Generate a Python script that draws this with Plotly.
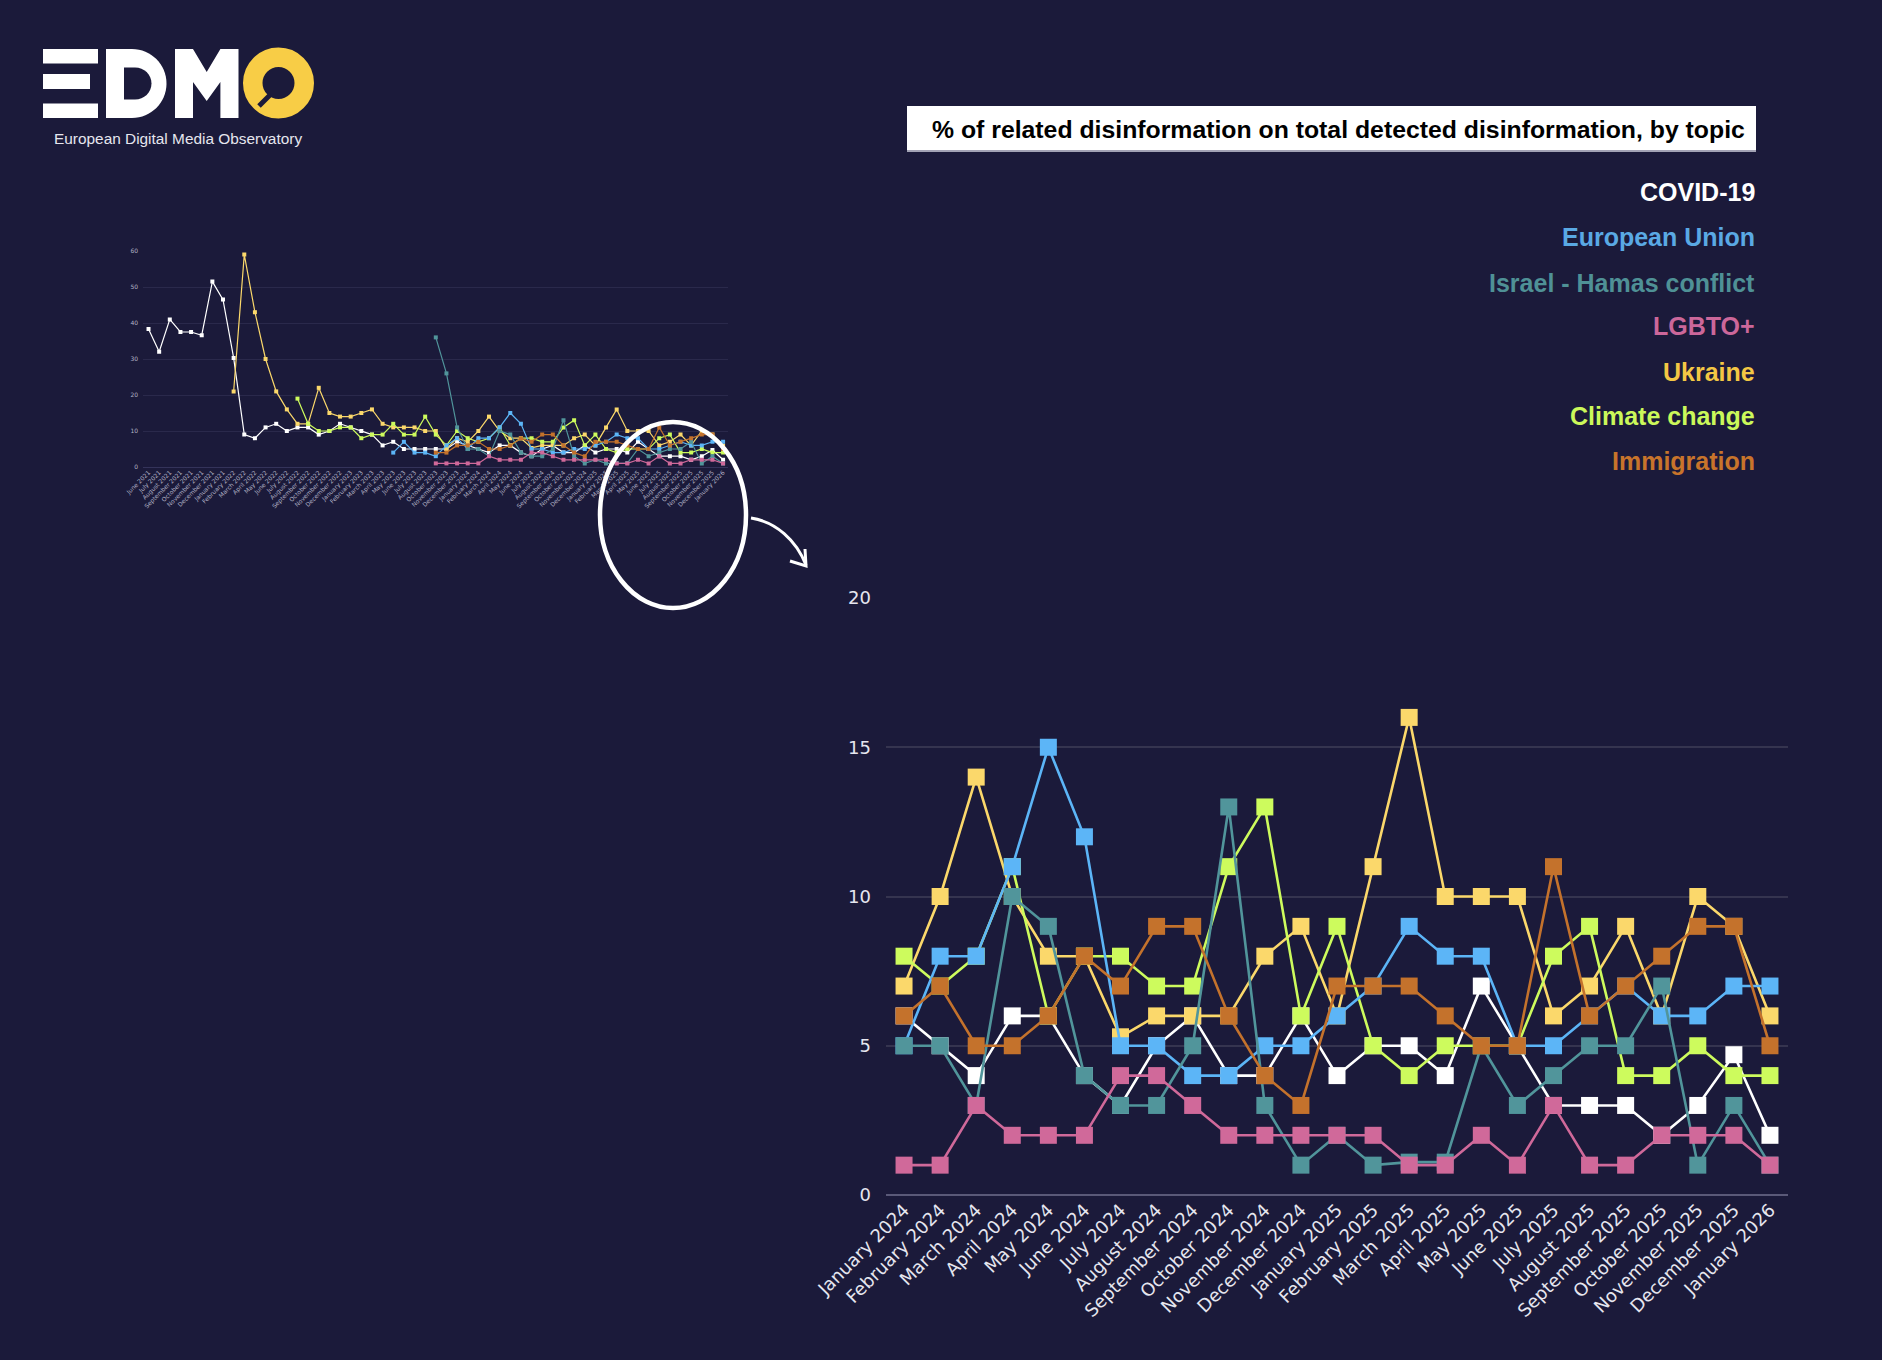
import plotly.graph_objects as go

W, H = 1882, 1360
BG = "#1b1a3a"

# ---------------- data ----------------
months_main = ["January 2024", "February 2024", "March 2024", "April 2024", "May 2024", "June 2024",
               "July 2024", "August 2024", "September 2024", "October 2024", "November 2024",
               "December 2024", "January 2025", "February 2025", "March 2025", "April 2025",
               "May 2025", "June 2025", "July 2025", "August 2025", "September 2025",
               "October 2025", "November 2025", "December 2025", "January 2026"]

months_hist = ["June 2021", "July 2021", "August 2021", "September 2021", "October 2021",
               "November 2021", "December 2021", "January 2021", "February 2022", "March 2022",
               "April 2022", "May 2022", "June 2022", "July 2022", "August 2022", "September 2022",
               "October 2022", "November 2022", "December 2022", "January 2023", "February 2023",
               "March 2023", "April 2023", "May 2023", "June 2023", "July 2023", "August 2023",
               "October 2023", "November 2023", "December 2023"]

covid = [6, 5, 4, 6, 6, 4, 3, 5, 6, 4, 4, 6, 4, 5, 5, 4, 7, 5, 3, 3, 3, 2, 3, 4.7, 2]
eu = [5, 8, 8, 11, 15, 12, 5, 5, 4, 4, 5, 5, 6, 7, 9, 8, 8, 5, 5, 6, 7, 6, 6, 7, 7]
israel = [5, 5, 3, 10, 9, 4, 3, 3, 5, 13, 3, 1, 2, 1, 1.1, 1.1, 5, 3, 4, 5, 5, 7, 1, 3, 1]
lgbto = [1, 1, 3, 2, 2, 2, 4, 4, 3, 2, 2, 2, 2, 2, 1, 1, 2, 1, 3, 1, 1, 2, 2, 2, 1]
ukraine = [7, 10, 14, 10, 8, 8, 5.3, 6, 6, 6, 8, 9, 6, 11, 16, 10, 10, 10, 6, 7, 9, 6, 10, 9, 6]
climate = [8, 7, 8, 11, 6, 8, 8, 7, 7, 11, 13, 6, 9, 5, 4, 5, 5, 5, 8, 9, 4, 4, 5, 4, 4]
immigration = [6, 7, 5, 5, 6, 8, 7, 9, 9, 6, 4, 3, 7, 7, 7, 6, 5, 5, 11, 6, 7, 8, 9, 9, 5]

# earlier history (June 2021 - December 2023) shown in the small overview chart
hist_covid = [38.3, 32, 41, 37.5, 37.5, 36.6, 51.5, 46.5, 30.3, 9, 8, 11, 12, 10, 11, 11, 9, 10,
              12, 11, 10, 9, 6, 7, 5, 5, 5, 5, 5, 7]
hist_eu = [None] * 23 + [4, 7, 4, 4, 3, 6, 8]
hist_israel = [None] * 27 + [36, 26, 11]
hist_lgbto = [None] * 27 + [1, 1, 1]
hist_ukraine = [None] * 8 + [21, 59, 43, 30, 21, 16, 12, 12, 22, 15, 14, 14, 15, 16, 12, 11, 11,
                             11, 10, 10, 5, 8]
hist_climate = [None] * 14 + [19, 12, 10, 10, 11, 11, 8, 9, 9, 12, 9, 9, 14, 9, 6, 10]
hist_immigration = [None] * 27 + [4, 4, 6]

legend_names = ["COVID-19", "European Union", "Israel - Hamas conflict", "LGBTO+", "Ukraine",
                "Climate change", "Immigration"]

# ---------------- styles ----------------
line_colors = {
    "COVID-19": "#ffffff",
    "European Union": "#5cb5f7",
    "Israel - Hamas conflict": "#51959b",
    "LGBTO+": "#d0699a",
    "Ukraine": "#fbd86b",
    "Climate change": "#cdfb5d",
    "Immigration": "#c4722c",
}
legend_colors = {
    "COVID-19": "#ffffff",
    "European Union": "#5aa9e4",
    "Israel - Hamas conflict": "#4f9196",
    "LGBTO+": "#cc679a",
    "Ukraine": "#f3c744",
    "Climate change": "#cbf85a",
    "Immigration": "#c8742b",
}

main_data = {"COVID-19": covid, "European Union": eu, "Israel - Hamas conflict": israel,
             "LGBTO+": lgbto, "Ukraine": ukraine, "Climate change": climate,
             "Immigration": immigration}
hist_data = {"COVID-19": hist_covid, "European Union": hist_eu,
             "Israel - Hamas conflict": hist_israel, "LGBTO+": hist_lgbto,
             "Ukraine": hist_ukraine, "Climate change": hist_climate,
             "Immigration": hist_immigration}

# drawing order (bottom -> top)
draw_order = ["COVID-19", "Ukraine", "Climate change", "European Union",
              "Israel - Hamas conflict", "LGBTO+", "Immigration"]

fig = go.Figure()

all_months = months_hist + months_main
for name in draw_order:
    fig.add_trace(go.Scatter(
        x=all_months, y=hist_data[name] + main_data[name], mode="lines+markers",
        line=dict(color=line_colors[name], width=1.2),
        marker=dict(symbol="square", size=4, color=line_colors[name]),
        xaxis="x2", yaxis="y2", showlegend=False, hoverinfo="skip", connectgaps=False))

for name in draw_order:
    fig.add_trace(go.Scatter(
        x=months_main, y=main_data[name], mode="lines+markers", name=name,
        line=dict(color=line_colors[name], width=2.6),
        marker=dict(symbol="square", size=17, color=line_colors[name]),
        xaxis="x", yaxis="y", showlegend=False, cliponaxis=False))


def pt(x, y):
    return f"{x / W:.6f},{1 - y / H:.6f}"


shapes = []
# --- EDMO logo ---
for (x0, y0, x1, y1) in [(43, 49, 98, 63.5), (43, 74, 90, 89), (43, 103.5, 98, 118)]:
    shapes.append(dict(type="rect", xref="paper", yref="paper", x0=x0 / W, x1=x1 / W,
                       y0=1 - y1 / H, y1=1 - y0 / H, fillcolor="#ffffff", line=dict(width=0)))
d_outer = (f"M {pt(106,49)} L {pt(132,49)} C {pt(151.05,49)} {pt(166.5,64.45)} {pt(166.5,83.5)} "
           f"C {pt(166.5,102.55)} {pt(151.05,118)} {pt(132,118)} L {pt(106,118)} Z")
d_hole = (f"M {pt(124,67.5)} L {pt(135,67.5)} C {pt(144.1,67.5)} {pt(151.5,74.4)} {pt(151.5,83.5)} "
          f"C {pt(151.5,92.6)} {pt(144.1,99.5)} {pt(135,99.5)} L {pt(124,99.5)} Z")
m_path = ("M " + " L ".join(pt(x, y) for x, y in [
    (175, 118), (175, 49), (193, 49), (206.7, 72), (220.4, 49), (238.5, 49), (238.5, 118),
    (220.4, 118), (220.4, 82), (206.7, 101), (193, 82), (193, 118)]) + " Z")
shapes.append(dict(type="path", xref="paper", yref="paper", path=d_outer,
                   fillcolor="#ffffff", line=dict(width=0)))
shapes.append(dict(type="path", xref="paper", yref="paper", path=d_hole,
                   fillcolor=BG, line=dict(width=0)))
shapes.append(dict(type="path", xref="paper", yref="paper", path=m_path,
                   fillcolor="#ffffff", line=dict(width=0)))
cx, cy, r = 278.5, 83, 25.75
shapes.append(dict(type="circle", xref="paper", yref="paper", x0=(cx - r) / W, x1=(cx + r) / W,
                   y0=1 - (cy + r) / H, y1=1 - (cy - r) / H, fillcolor="rgba(0,0,0,0)",
                   line=dict(color="#f8cd46", width=19.5)))
shapes.append(dict(type="line", xref="paper", yref="paper", x0=270 / W, y0=1 - 95 / H,
                   x1=259 / W, y1=1 - 106 / H, line=dict(color=BG, width=5)))

# --- title box ---
shapes.append(dict(type="rect", xref="paper", yref="paper", x0=907 / W, x1=1756 / W,
                   y0=1 - 151 / H, y1=1 - 106 / H, fillcolor="#ffffff", line=dict(width=0),
                   layer="below"))
shapes.append(dict(type="line", xref="paper", yref="paper", x0=907 / W, x1=1756 / W,
                   y0=1 - 151 / H, y1=1 - 151 / H, line=dict(color="#a3a3b5", width=2)))

# --- highlight ellipse & arrow ---
ex, ey, erx, ery = 673, 515, 73, 93
shapes.append(dict(type="circle", xref="paper", yref="paper", x0=(ex - erx) / W,
                   x1=(ex + erx) / W, y0=1 - (ey + ery) / H, y1=1 - (ey - ery) / H,
                   line=dict(color="#ffffff", width=4.5)))
shapes.append(dict(type="path", xref="paper", yref="paper",
                   path=f"M {pt(751,518)} C {pt(776,522)} {pt(796,540)} {pt(806,565)}",
                   line=dict(color="#ffffff", width=3)))
shapes.append(dict(type="path", xref="paper", yref="paper",
                   path=f"M {pt(790,561)} L {pt(806,566)} L {pt(805,549)}",
                   line=dict(color="#ffffff", width=3)))

annotations = [
    dict(text="European Digital Media Observatory", x=178 / W, y=1 - 139 / H, xref="paper",
         yref="paper", xanchor="center", yanchor="middle", showarrow=False,
         font=dict(family="Liberation Sans, Arial, sans-serif", size=15.4, color="#e6e6ee")),
    dict(text="<b>% of related disinformation on total detected disinformation, by topic</b>",
         x=1747 / W, y=1 - 129 / H, xref="paper", yref="paper", xanchor="right",
         yanchor="middle", showarrow=False,
         font=dict(family="Liberation Sans, Arial, sans-serif", size=24.8, color="#000000")),
]
legend_y = [192, 237.5, 283, 326, 372, 416, 461]
for name, yy in zip(legend_names, legend_y):
    annotations.append(dict(text=f"<b>{name}</b>", x=1757 / W, y=1 - yy / H, xref="paper",
                            yref="paper", xanchor="right", yanchor="middle", showarrow=False,
                            font=dict(family="Liberation Sans, Arial, sans-serif", size=25,
                                      color=legend_colors[name])))

tickfont_main = dict(family="DejaVu Sans, sans-serif", size=18, color="#e6e6ef")
tickfont_small = dict(family="DejaVu Sans, sans-serif", size=6, color="#b3b3c6")

fig.update_layout(
    width=W, height=H, autosize=False,
    margin=dict(l=0, r=0, t=0, b=0, pad=0),
    paper_bgcolor=BG, plot_bgcolor=BG,
    showlegend=False,
    shapes=shapes, annotations=annotations,
    xaxis=dict(domain=[886 / W, 1788 / W], anchor="y", type="category",
               range=[-0.5, 24.5], showgrid=False, zeroline=False, showline=False,
               tickmode="array", tickvals=months_main, ticktext=months_main,
               tickangle=-45, tickfont=tickfont_main, ticks="", automargin=False),
    yaxis=dict(domain=[1 - 1195 / H, 1 - 598 / H], anchor="x", range=[0, 20],
               tickvals=[0, 5, 10, 15, 20], gridcolor="#35344f", gridwidth=1.5,
               zeroline=True, zerolinecolor="#5a5978", zerolinewidth=2, showline=False,
               tickfont=tickfont_main, ticks="", ticklabelstandoff=14, automargin=False),
    xaxis2=dict(domain=[143.2 / W, 728.4 / W], anchor="y2", type="category",
                range=[-0.5, 54.5], showgrid=False, zeroline=False, showline=False,
                tickmode="array", tickvals=all_months, ticktext=all_months,
                tickangle=-45, tickfont=tickfont_small, ticks="", automargin=False),
    yaxis2=dict(domain=[1 - 467 / H, 1 - 251 / H], anchor="x2", range=[0, 60],
                tickvals=[0, 10, 20, 30, 40, 50, 60], gridcolor="#2a294b", gridwidth=1,
                zeroline=True, zerolinecolor="#34335a", zerolinewidth=1, showline=False,
                tickfont=tickfont_small, ticks="", ticklabelstandoff=4, automargin=False),
)

fig.write_html("out.html", config={"displayModeBar": False},
               post_script="document.body.style.margin='0';"
                           "document.body.style.background='" + BG + "';")
